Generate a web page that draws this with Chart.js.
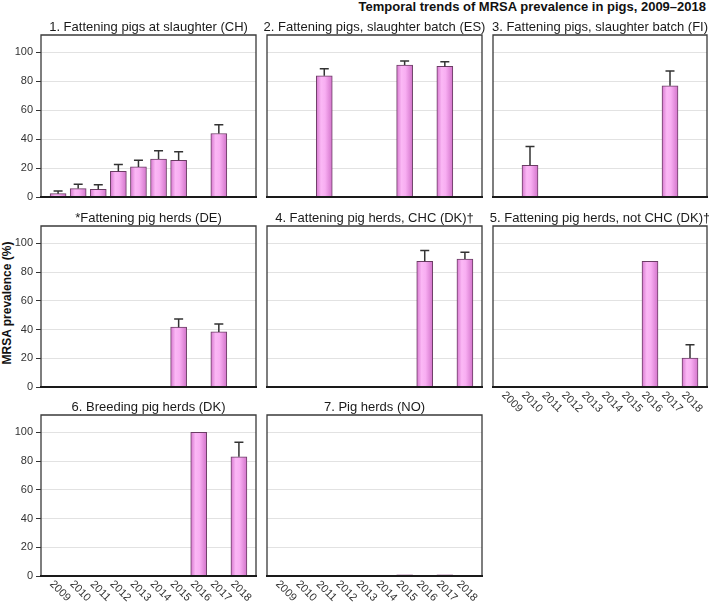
<!DOCTYPE html>
<html>
<head>
<meta charset="utf-8">
<script src="https://cdn.jsdelivr.net/npm/chart.js@4.4.1/dist/chart.umd.min.js"></script>
<style>
  body { margin: 0; background: #fff; }
  #wrap { position: relative; width: 709px; height: 602px; overflow: hidden; font-family: "Liberation Sans", Arial, sans-serif; }
  #wrap canvas { position: absolute; left: 0; top: 0; }
  #mainTitle { position: absolute; right: 3px; top: -1px; font-size: 13px; font-weight: bold; color: #111; white-space: nowrap; }
  #yTitle { position: absolute; left: 7px; top: 303px; transform: translate(-50%, -50%) rotate(-90deg); font-size: 12px; font-weight: bold; color: #111; white-space: nowrap; }
</style>
</head>
<body>
<div id="wrap">
  <div id="mainTitle">Temporal trends of MRSA prevalence in pigs, 2009–2018</div>
  <div id="yTitle">MRSA prevalence (%)</div>
</div>
<script>
const years = ['2009', '2010', '2011', '2012', '2013', '2014', '2015', '2016', '2017', '2018']

const panelTitles = [
    '1. Fattening pigs at slaughter (CH)',
    '2. Fattening pigs, slaughter batch (ES)',
    '3. Fattening pigs, slaughter batch (FI)',
    '*Fattening pig herds (DE)',
    '4. Fattening pig herds, CHC (DK)†',
    '5. Fattening pig herds, not CHC (DK)†',
    '6. Breeding pig herds (DK)',
    '7. Pig herds (NO)'
]

// prevalence (%) and upper error bar per year, null = no data
const chValues = [2.3, 5.8, 5.3, 17.8, 20.8, 26.3, 25.4, null, 43.9, null]
const chUpper = [4.2, 8.8, 8.5, 22.4, 25.4, 31.9, 31.2, null, 49.9, null]
const esValues = [null, null, 83.8, null, null, null, 91.2, null, 90.3, null]
const esUpper = [null, null, 88.7, null, null, null, 94.0, null, 93.5, null]
const fiValues = [null, 21.9, null, null, null, null, null, null, 76.9, null]
const fiUpper = [null, 34.9, null, null, null, null, null, null, 87.1, null]
const deValues = [null, null, null, null, null, null, 41.6, null, 38.3, null]
const deUpper = [null, null, null, null, null, null, 47.3, null, 43.9, null]
const dkChcValues = [null, null, null, null, null, null, null, 87.4, null, 89.0]
const dkChcUpper = [null, null, null, null, null, null, null, 95.0, null, 93.8]
const dkNotChcValues = [null, null, null, null, null, null, null, 87.4, null, 20.2]
const dkNotChcUpper = [null, null, null, null, null, null, null, null, null, 29.4]
const dkBreedValues = [null, null, null, null, null, null, null, 100, null, 82.9]
const dkBreedUpper = [null, null, null, null, null, null, null, null, null, 93.0]
const noValues = [null, null, null, null, null, 0.4, 0.9, 0.4, 0.9, 0.4]
const noUpper = [null, null, null, null, null, null, null, null, null, null]

const yTicks = [0, 20, 40, 60, 80, 100]

const panelValues = [chValues, esValues, fiValues, deValues, dkChcValues, dkNotChcValues, dkBreedValues, noValues]
const panelUpper = [chUpper, esUpper, fiUpper, deUpper, dkChcUpper, dkNotChcUpper, dkBreedUpper, noUpper]

// layout: grid cell of each panel (col,row) and whether it shows year labels
const panelCells = [[0, 0], [1, 0], [2, 0], [0, 1], [1, 1], [2, 1], [0, 2], [1, 2]]
const panelShowYears = [false, false, false, false, false, true, true, true]
const colBounds = [[41, 256], [267, 482], [493, 707]]
const rowBounds = [[35, 197], [226, 387], [415, 576]]
const pageW = 709
const pageH = 602
const yAxisW = 30
const fontFamily = '"Liberation Sans", Arial, sans-serif'


function barGradient(c) {
    const chart = c.chart
    if (!chart.chartArea || !chart.scales.x) return '#f3a2ec'
    const cx = chart.scales.x.getPixelForValue(c.dataIndex)
    const g = chart.ctx.createLinearGradient(cx - 8, 0, cx + 8, 0)
    g.addColorStop(0, '#d676ce')
    g.addColorStop(0.3, '#fbb8f5')
    g.addColorStop(0.55, '#f8aef2')
    g.addColorStop(1, '#d273ca')
    return g
}

const panelPlugin = {
    id: 'panelDecor',
    afterDatasetsDraw(chart, args, opts) {
        const ctx = chart.ctx
        const a = chart.chartArea
        const x = chart.scales.x
        const y = chart.scales.y
        ctx.save()

        // error bars
        ctx.strokeStyle = '#333'
        ctx.lineWidth = 1.5
        opts.upper.forEach((u, i) => {
            const v = opts.values[i]
            if (u == null || v == null) return
            const px = x.getPixelForValue(i)
            const top = y.getPixelForValue(u)
            const bot = y.getPixelForValue(v)
            ctx.beginPath()
            ctx.moveTo(px, bot)
            ctx.lineTo(px, top)
            ctx.moveTo(px - 4.5, top)
            ctx.lineTo(px + 4.5, top)
            ctx.stroke()
        })

        // frame
        ctx.strokeStyle = '#3a3a3a'
        ctx.lineWidth = 1.3
        ctx.beginPath()
        ctx.moveTo(a.left, a.bottom)
        ctx.lineTo(a.left, a.top)
        ctx.lineTo(a.right, a.top)
        ctx.lineTo(a.right, a.bottom)
        ctx.stroke()
        ctx.strokeStyle = '#1a1a1a'
        ctx.lineWidth = 2
        ctx.beginPath()
        ctx.moveTo(a.left - 1, a.bottom)
        ctx.lineTo(a.right + 1, a.bottom)
        ctx.stroke()

        // title
        ctx.fillStyle = '#1a1a1a'
        ctx.font = '13px ' + fontFamily
        ctx.textAlign = 'center'
        ctx.textBaseline = 'alphabetic'
        ctx.fillText(opts.title, (a.left + a.right) / 2, a.top - 4)

        // year labels, rotated clockwise
        if (opts.showYears) {
            ctx.font = '11px ' + fontFamily
            ctx.fillStyle = '#333'
            ctx.textBaseline = 'middle'
            years.forEach((yr, i) => {
                ctx.save()
                ctx.translate(x.getPixelForValue(i) + 2, a.bottom + 15)
                ctx.rotate(Math.PI / 4)
                ctx.fillText(yr, 0, 0)
                ctx.restore()
            })
        }
        ctx.restore()
    }
}


function makePanel(k) {
    const canvas = document.createElement('canvas')
    canvas.width = pageW
    canvas.height = pageH
    document.getElementById('wrap').appendChild(canvas)

    const col = panelCells[k][0]
    const row = panelCells[k][1]
    const showY = col == 0
    const axisW = showY ? yAxisW : 0
    const values = panelValues[k]

    return new Chart(canvas, {
        type: 'bar',
        data: {
            datasets: [{
                data: values.map((v, i) => ({ x: i, y: v })),
                backgroundColor: barGradient,
                borderColor: '#6a3d64',
                borderWidth: 1,
                barThickness: 16
            }]
        },
        options: {
            responsive: false,
            animation: false,
            devicePixelRatio: 1,
            layout: {
                padding: {
                    left: colBounds[col][0] - axisW,
                    right: pageW - colBounds[col][1],
                    top: rowBounds[row][0],
                    bottom: pageH - rowBounds[row][1]
                }
            },
            plugins: {
                legend: { display: false },
                tooltip: { enabled: false },
                panelDecor: {
                    title: panelTitles[k],
                    values: values,
                    upper: panelUpper[k],
                    showYears: panelShowYears[k]
                }
            },
            scales: {
                x: {
                    type: 'linear',
                    display: false,
                    offset: false,
                    min: -0.85,
                    max: 9.85
                },
                y: {
                    min: 0,
                    max: 112,
                    afterFit: (s) => { s.width = axisW },
                    afterBuildTicks: (s) => { s.ticks = yTicks.map(v => ({ value: v })) },
                    border: { display: false },
                    grid: {
                        color: '#e2e2e2',
                        lineWidth: 1,
                        drawTicks: showY,
                        tickLength: 5,
                        tickColor: '#333'
                    },
                    ticks: {
                        display: showY,
                        padding: 3,
                        color: '#333',
                        font: { family: fontFamily, size: 11 }
                    }
                }
            }
        },
        plugins: [panelPlugin]
    })
}

window.addEventListener('load', () => {
    panelTitles.forEach((t, k) => makePanel(k))
})
</script>
</body>
</html>
